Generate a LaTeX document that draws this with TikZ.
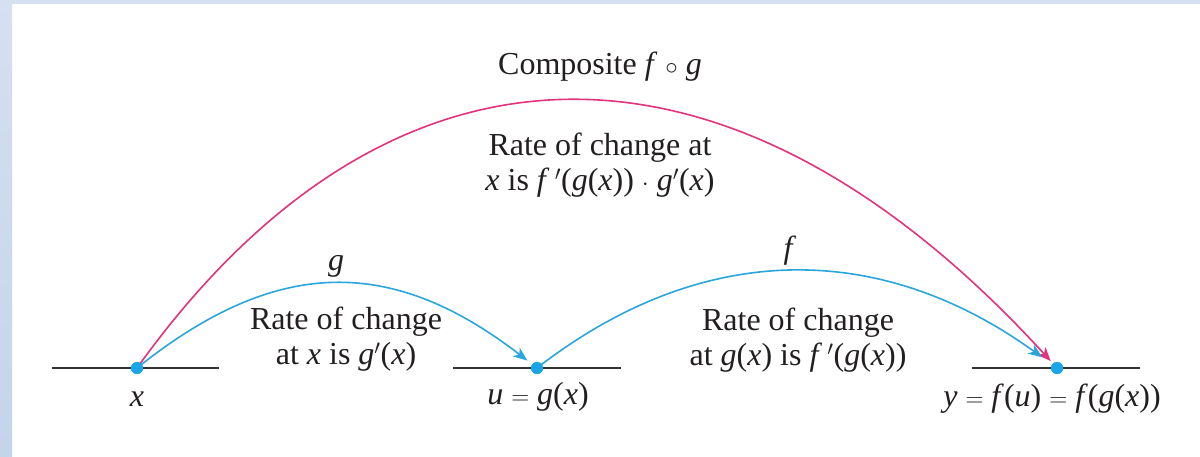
\documentclass[tikz,border=0pt]{standalone}
\usepackage{fontspec}
\setmainfont{Liberation Serif}
\usetikzlibrary{arrows.meta}
\definecolor{bandtop}{HTML}{D5E0F0}
\definecolor{bandbot}{HTML}{C4D4EA}
\definecolor{arcblue}{HTML}{2BA6DC}
\definecolor{arcpink}{HTML}{E2337C}
\definecolor{dotblue}{HTML}{19A6E8}
\definecolor{axisgray}{HTML}{333333}
\definecolor{inktext}{HTML}{231F20}
\newcommand{\mi}[1]{\textit{#1}}
\tikzset{
  dotnode/.style={circle,fill=dotblue,inner sep=0pt,minimum size=12pt},
  axisline/.style={draw=axisgray,line width=1.6pt},
  arcline/.style={line width=1.6pt,-{Stealth[length=14pt,width=11pt,inset=4pt]}},
  lbl/.style={anchor=base,inner sep=0pt,text=inktext,font=\fontsize{32}{35}\selectfont,align=center},
}
\begin{document}
\begin{tikzpicture}[x=1pt,y=-1pt]
\useasboundingbox (0,0) rectangle (1200,456);
\fill[white] (0,0) rectangle (1200,456);
\shade[top color=bandtop,bottom color=bandbot] (0,0) rectangle (12,456);
\fill[bandtop] (0,0) rectangle (1200,4);
% points
\node[dotnode] (px) at (137,368) {};
\node[dotnode] (pu) at (537,368) {};
\node[dotnode] (py) at (1057,368) {};
% axis segments
\draw[axisline] ([xshift=-85pt]px.center) -- ([xshift=82pt]px.center);
\draw[axisline] ([xshift=-84pt]pu.center) -- ([xshift=84pt]pu.center);
\draw[axisline] ([xshift=-85pt]py.center) -- ([xshift=83pt]py.center);
% arcs
\draw[arcline,draw=arcpink,shorten >=3pt] (px.center) .. controls (392,12) and (732,12) .. (py);
\draw[arcline,draw=arcblue,shorten >=6pt] (px.center) .. controls (277,256) and (392,256) .. (pu);
\draw[arcline,draw=arcblue,shorten >=12pt] (pu.center) .. controls (702,240) and (880,240) .. (py);
% redraw dots on top
\node[dotnode] at (px) {};
\node[dotnode] at (pu) {};
\node[dotnode] at (py) {};
% labels
\node[lbl] (lcomp) at (600,74) {Composite \mi{f} $\circ$ \mi{g}};
\node[lbl] (lrate) at (600,190) {Rate of change at\\\mi{x} is \mi{f}\,$'$(\mi{g}(\mi{x})) $\cdot$ \mi{g}$'$(\mi{x})};
\node[lbl] (lg) at (336,270) {\mi{g}};
\node[lbl] (lgrate) at (346,364) {Rate of change\\at \mi{x} is \mi{g}$'$(\mi{x})};
\node[lbl] (lf) at (790,258) {\mi{f}};
\node[lbl] (lfrate) at (798,365) {Rate of change\\at \mi{g}(\mi{x}) is \mi{f}\,$'$(\mi{g}(\mi{x}))};
\node[lbl] (lx) at (137,406) {\mi{x}};
\node[lbl] (lu) at (538,404) {\mi{u} $=$ \mi{g}(\mi{x})};
\node[lbl] (ly) at (1052,406) {\mi{y} $=$ \mi{f}(\mi{u}) $=$ \mi{f}(\mi{g}(\mi{x}))};
\end{tikzpicture}
\end{document}
